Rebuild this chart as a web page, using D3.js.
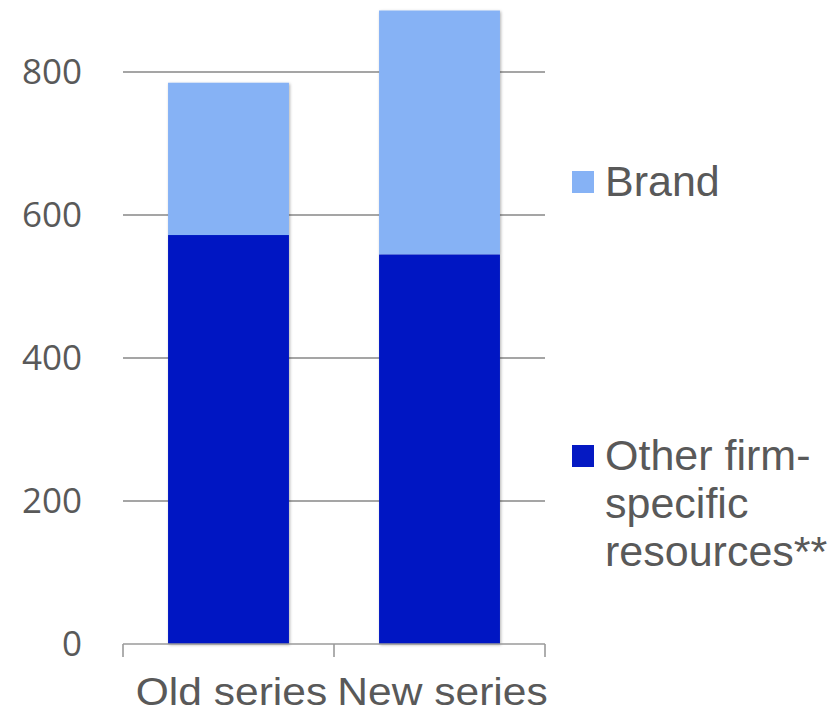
<!DOCTYPE html>
<html>
<head>
<meta charset="utf-8">
<script src="https://cdn.jsdelivr.net/npm/d3@7"></script>
<style>
  body { margin: 0; background: #fff; }
  text { fill: #595959; }
</style>
</head>
<body>
<script>
// ---- data ----
var categories = ["Old series", "New series"];
var otherValues = [572, 545];   // Other firm-specific resources**
var brandValues = [213, 341];   // Brand
var yTicks = [0, 200, 400, 600, 800];
var seriesKeys = ["other", "brand"];
var seriesColors = {other: "#0519c3", brand: "#86b2f5"};
var legendItems = [
  {key: "brand", lines: ["Brand"]},
  {key: "other", lines: ["Other firm-", "specific", "resources**"]}
];

var width = 839, height = 714;

var svg = d3.select("body")
            .append("svg")
            .attr("width", width)
            .attr("height", height);

// soft shadow under the bars
var f = svg.append("defs").append("filter")
           .attr("id", "shadow")
           .attr("x", "-10%").attr("y", "-10%")
           .attr("width", "120%").attr("height", "120%");
f.append("feDropShadow")
  .attr("dx", 1).attr("dy", 1)
  .attr("stdDeviation", 1.8)
  .attr("flood-color", "#000")
  .attr("flood-opacity", 0.3);

var table = categories.map(function(c, i){
  return {cat: c, other: otherValues[i], brand: brandValues[i]};
});

var xScale = d3.scaleBand()
               .domain(categories)
               .range([123, 545])
               .paddingInner(0.427)
               .paddingOuter(0.2135);

var yScale = d3.scaleLinear()
               .domain([0, 800])
               .range([644, 72]);

// ---- gridlines ----
svg.append("g")
   .selectAll("line")
   .data(yTicks.filter(function(d){ return d > 0; }))
   .enter()
   .append("line")
   .attr("x1", 123).attr("x2", 545)
   .attr("y1", function(d){ return yScale(d); })
   .attr("y2", function(d){ return yScale(d); })
   .attr("stroke", "#878787")
   .attr("stroke-width", 1.6);

// ---- y labels ----
svg.append("g")
   .selectAll("text")
   .data(yTicks)
   .enter()
   .append("text")
   .attr("x", 82)
   .attr("y", function(d){ return yScale(d) + 12; })
   .attr("text-anchor", "end")
   .style("font-family", "'Open Sans', sans-serif")
   .style("font-size", "35px")
   .text(function(d){ return d; });

// ---- stacked bars ----
var stack = d3.stack().keys(seriesKeys)(table);

var bars = svg.append("g").attr("filter", "url(#shadow)");
bars.selectAll("g")
   .data(stack)
   .enter()
   .append("g")
   .attr("fill", function(s){ return seriesColors[s.key]; })
   .selectAll("rect")
   .data(function(s){ return s; })
   .enter()
   .append("rect")
   .attr("x", function(d){ return xScale(d.data.cat); })
   .attr("width", xScale.bandwidth())
   .attr("y", function(d){ return yScale(d[1]); })
   .attr("height", function(d){ return yScale(d[0]) - yScale(d[1]); });

// ---- x axis ----
var xr = xScale.range();
var step = (xr[1] - xr[0]) / categories.length;
var bounds = d3.range(categories.length + 1).map(function(i){ return xr[0] + i * step; });

var xAxis = svg.append("g").attr("stroke", "#9a9a9a").attr("stroke-width", 1.6);
xAxis.append("line")
     .attr("x1", xr[0]).attr("x2", xr[1])
     .attr("y1", yScale(0)).attr("y2", yScale(0));
xAxis.selectAll("line.tick")
     .data(bounds)
     .enter()
     .append("line")
     .attr("class", "tick")
     .attr("x1", function(d){ return d; })
     .attr("x2", function(d){ return d; })
     .attr("y1", yScale(0))
     .attr("y2", yScale(0) + 13);

svg.append("g")
   .selectAll("text")
   .data(categories)
   .enter()
   .append("text")
   .attr("transform", function(d){
     return "translate(" + (xScale(d) + xScale.bandwidth() / 2 + 3) + ",705) scale(1.12,1)";
   })
   .attr("text-anchor", "middle")
   .style("font-family", "'Liberation Sans', Arial, sans-serif")
   .style("font-size", "38px")
   .text(function(d){ return d; });

// ---- legend ----
var legendY = {brand: 171, other: 445};
var legend = svg.append("g")
   .selectAll("g")
   .data(legendItems)
   .enter()
   .append("g")
   .attr("transform", function(d){ return "translate(572," + legendY[d.key] + ")"; });

legend.append("rect")
      .attr("width", 22).attr("height", 22)
      .attr("fill", function(d){ return seriesColors[d.key]; });

legend.append("text")
      .attr("x", 33)
      .attr("y", 25)
      .style("font-family", "'Liberation Sans', Arial, sans-serif")
      .style("font-size", "43px")
      .selectAll("tspan")
      .data(function(d){ return d.lines; })
      .enter()
      .append("tspan")
      .attr("x", 33)
      .attr("dy", function(d, i){ return i === 0 ? 0 : 48; })
      .text(function(d){ return d; });
</script>
</body>
</html>
